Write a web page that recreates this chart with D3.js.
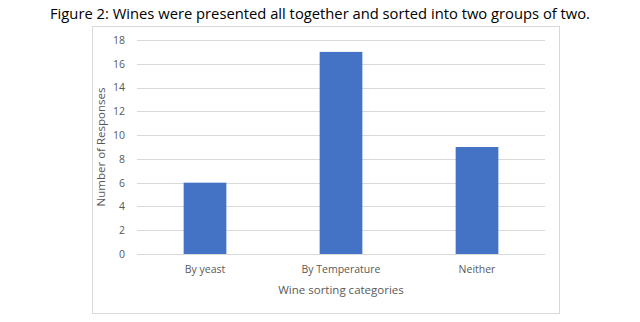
<!DOCTYPE html>
<html>
<head>
<meta charset="utf-8">
<script src="https://cdn.jsdelivr.net/npm/d3@7"></script>
<style>
  body { margin: 0; background: #fff; }
  svg text { font-family: "Open Sans", "Noto Sans", sans-serif; }
</style>
</head>
<body>
<div id="chart"></div>
<script>
// chart data
const categories = ["By yeast", "By Temperature", "Neither"];
const responses = [6, 17, 9];
const yTicks = [0, 2, 4, 6, 8, 10, 12, 14, 16, 18];

const titleText = "Figure 2: Wines were presented all together and sorted into two groups of two.";
const xTitle = "Wine sorting categories";
const yTitle = "Number of Responses";

const W = 640, H = 322;
const plot = {left: 137, right: 545, top: 40, bottom: 254};

const svg = d3.select("#chart").append("svg")
    .attr("width", W)
    .attr("height", H);

// figure title
svg.append("text")
    .attr("x", 320)
    .attr("y", 19)
    .attr("text-anchor", "middle")
    .attr("textLength", 540)
    .attr("lengthAdjust", "spacingAndGlyphs")
    .style("font-size", "14.5px")
    .style("fill", "#000")
    .text(titleText);

// chart border
svg.append("rect")
    .attr("x", 92.5)
    .attr("y", 26.5)
    .attr("width", 467)
    .attr("height", 287)
    .style("fill", "#fff")
    .style("stroke", "#d9d9d9");

// scales
const x = d3.scaleBand()
    .domain(categories)
    .range([plot.left, plot.right])
    .paddingInner(0.686)
    .paddingOuter(0.343);

const y = d3.scaleLinear()
    .domain([0, 18])
    .range([plot.bottom, plot.top]);

// gridlines
svg.append("g")
    .selectAll("line")
    .data(yTicks)
    .enter()
    .append("line")
    .attr("x1", plot.left)
    .attr("x2", plot.right)
    .attr("y1", d => Math.round(y(d)) + 0.5)
    .attr("y2", d => Math.round(y(d)) + 0.5)
    .style("stroke", "#d9d9d9")
    .style("stroke-width", 1);

// y axis labels
const yAxis = d3.axisLeft(y).tickValues(yTicks).tickSize(0).tickPadding(12);
const gy = svg.append("g")
    .attr("transform", `translate(${plot.left},0)`)
    .call(yAxis);
gy.select(".domain").remove();
gy.selectAll("text")
    .style("font-size", "10.5px")
    .style("fill", "#595959")
    .style("font-family", "\"Open Sans\", sans-serif");

// bars
svg.append("g")
    .selectAll("rect")
    .data(responses)
    .enter()
    .append("rect")
    .attr("x", (d, i) => x(categories[i]))
    .attr("y", d => y(d))
    .attr("width", x.bandwidth())
    .attr("height", d => y(0) - y(d))
    .style("fill", "#4472c4");

// x axis labels
const xAxis = d3.axisBottom(x).tickSize(0).tickPadding(12);
const gx = svg.append("g")
    .attr("transform", `translate(0,${plot.bottom})`)
    .call(xAxis);
gx.select(".domain").remove();
gx.selectAll("text")
    .style("font-size", "10.5px")
    .style("fill", "#595959")
    .style("font-family", "\"Open Sans\", sans-serif");

// axis titles
svg.append("text")
    .attr("x", (plot.left + plot.right) / 2)
    .attr("y", 294)
    .attr("text-anchor", "middle")
    .style("font-size", "11.5px")
    .style("fill", "#595959")
    .text(xTitle);

svg.append("text")
    .attr("transform", `translate(105,${(plot.top + plot.bottom) / 2}) rotate(-90)`)
    .attr("text-anchor", "middle")
    .style("font-size", "11.5px")
    .style("fill", "#595959")
    .text(yTitle);
</script>
</body>
</html>
